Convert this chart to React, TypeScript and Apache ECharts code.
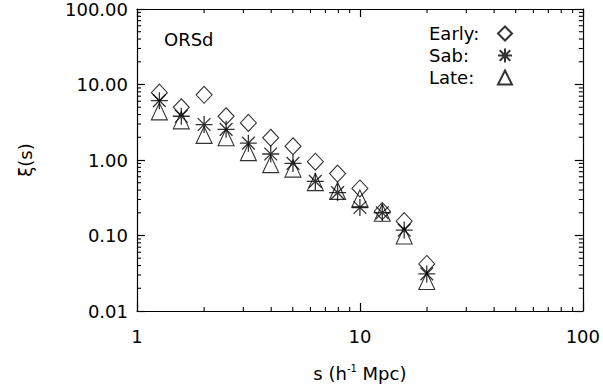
import React, { useEffect, useRef } from "react";
import * as echarts from "echarts";

const sValues = [1.26, 1.58, 2.0, 2.51, 3.16, 3.98, 5.01, 6.31, 7.94, 10.0, 12.6, 15.8, 19.95];
const earlyValues = [7.8, 5.0, 7.3, 3.8, 3.1, 1.97, 1.52, 0.95, 0.66, 0.42, 0.21, 0.155, 0.042];
const sabValues = [6.1, 3.8, 2.95, 2.55, 1.67, 1.2, 0.9, 0.52, 0.37, 0.235, 0.2, 0.118, 0.031];
const lateValues = [4.4, 3.35, 2.15, 2.0, 1.27, 0.88, 0.77, 0.51, 0.39, 0.31, 0.2, 0.1, 0.025];
const seriesNames = ["Early", "Sab", "Late"];
const xMinorTicks = [2, 3, 4, 5, 6, 7, 8, 9, 20, 30, 40, 50, 60, 70, 80, 90];
const yMinorTicks = [
  0.02, 0.03, 0.04, 0.05, 0.06, 0.07, 0.08, 0.09,
  0.2, 0.3, 0.4, 0.5, 0.6, 0.7, 0.8, 0.9,
  2, 3, 4, 5, 6, 7, 8, 9,
  20, 30, 40, 50, 60, 70, 80, 90,
];

const FONT = "DejaVu Sans";
const ASTERISK = "path://M0 -10 L0 10 M-10 0 L10 0 M-7.5 -7.5 L7.5 7.5 M-7.5 7.5 L7.5 -7.5";

export default function App() {
  const ref = useRef<HTMLDivElement>(null);
  useEffect(() => {
    if (!ref.current) return;
    const chart = echarts.init(ref.current, null, { renderer: "svg" });
    const pairs = (ys: number[]) => sValues.map((x, i) => [x, ys[i]]);
    const markerStyle = { color: "none", borderColor: "#000", borderWidth: 1.1 };
    const axisCommon = {
      type: "log" as const,
      logBase: 10,
      axisLine: { show: true, lineStyle: { color: "#000", width: 1.2 } },
      axisTick: { show: true, inside: true, length: 8, lineStyle: { color: "#000", width: 1.2 } },
      splitLine: { show: false },
    };
    chart.setOption({
      animation: false,
      backgroundColor: "#fff",
      textStyle: { fontFamily: FONT },
      grid: { left: 137, right: 20, top: 8, bottom: 74 },
      xAxis: [
        {
          ...axisCommon,
          min: 1,
          max: 100,
          position: "bottom",
          axisLabel: {
            color: "#000",
            fontSize: 18,
            fontFamily: FONT,
            margin: 16,
            formatter: (v: number) => String(Math.round(v)),
          },
          name: "s (h{sup|-1} Mpc)",
          nameLocation: "middle",
          nameGap: 52,
          nameTextStyle: {
            color: "#000",
            fontSize: 18,
            fontFamily: FONT,
            rich: { sup: { fontSize: 10, padding: [0, 0, 10, 0], fontFamily: FONT, color: "#000" } },
          },
        },
        {
          ...axisCommon,
          min: 1,
          max: 100,
          position: "top",
          axisLabel: { show: false },
        },
      ],
      yAxis: [
        {
          ...axisCommon,
          min: 0.01,
          max: 100,
          position: "left",
          axisLabel: {
            color: "#000",
            fontSize: 18,
            fontFamily: FONT,
            margin: 9,
            formatter: (v: number) => v.toFixed(2),
          },
          name: "ξ(s)",
          nameLocation: "middle",
          nameGap: 103,
          nameRotate: 90,
          nameTextStyle: { color: "#000", fontSize: 18, fontFamily: FONT },
        },
        {
          ...axisCommon,
          min: 0.01,
          max: 100,
          position: "right",
          axisLabel: { show: false },
        },
      ],
      legend: {
        orient: "vertical",
        left: 424,
        top: 19,
        align: "right",
        itemWidth: 14,
        itemHeight: 14,
        itemGap: 3,
        data: seriesNames,
        formatter: (n: string) => "{a|" + n + ":}",
        textStyle: {
          color: "#000",
          fontSize: 18,
          fontFamily: FONT,
          rich: { a: { width: 64, align: "left", fontSize: 18, fontFamily: FONT, color: "#000" } },
        },
        selectedMode: false,
      },
      graphic: [
        {
          type: "text",
          left: 164,
          top: 30,
          style: { text: "ORSd", fontSize: 18, fontFamily: FONT, fill: "#000" },
        },
      ],
      series: [
        {
          name: seriesNames[0],
          type: "scatter",
          symbol: "diamond",
          symbolSize: [16, 17],
          itemStyle: markerStyle,
          data: pairs(earlyValues),
          z: 3,
        },
        {
          name: seriesNames[1],
          type: "scatter",
          symbol: ASTERISK,
          symbolSize: 17,
          itemStyle: { color: "none", borderColor: "#000", borderWidth: 1.3 },
          data: pairs(sabValues),
          z: 4,
        },
        {
          name: seriesNames[2],
          type: "scatter",
          symbol: "triangle",
          symbolSize: [16, 17],
          itemStyle: markerStyle,
          data: pairs(lateValues),
          z: 2,
        },
        {
          type: "custom",
          silent: true,
          data: xMinorTicks.map((v) => [v, 1]),
          renderItem: (params: any, api: any) => {
            const cs = params.coordSys;
            const px = api.coord([api.value(0), 1])[0];
            const bottom = cs.y + cs.height;
            const st = { stroke: "#000", lineWidth: 1.1 };
            return {
              type: "group",
              children: [
                { type: "line", shape: { x1: px, y1: bottom, x2: px, y2: bottom - 4 }, style: st },
                { type: "line", shape: { x1: px, y1: cs.y, x2: px, y2: cs.y + 4 }, style: st },
              ],
            };
          },
        },
        {
          type: "custom",
          silent: true,
          data: yMinorTicks.map((v) => [1, v]),
          renderItem: (params: any, api: any) => {
            const cs = params.coordSys;
            const py = api.coord([1, api.value(1)])[1];
            const right = cs.x + cs.width;
            const st = { stroke: "#000", lineWidth: 1.1 };
            return {
              type: "group",
              children: [
                { type: "line", shape: { x1: cs.x, y1: py, x2: cs.x + 4, y2: py }, style: st },
                { type: "line", shape: { x1: right, y1: py, x2: right - 4, y2: py }, style: st },
              ],
            };
          },
        },
      ],
    });
    return () => chart.dispose();
  }, []);
  return <div ref={ref} style={{ width: 603, height: 387, position: "absolute", left: 0, top: 0 }} />;
}
